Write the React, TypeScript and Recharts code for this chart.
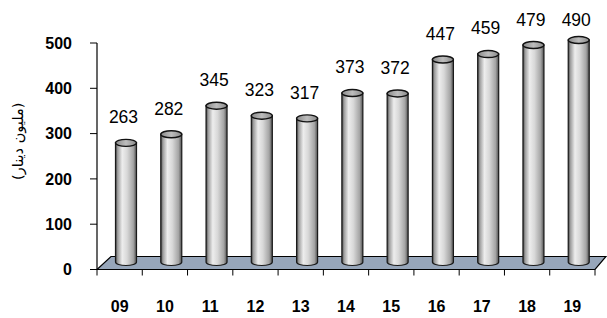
import { BarChart, Bar, XAxis, YAxis, LabelList, ReferenceArea } from 'recharts';

// values (million dinars)
const years = ['09', '10', '11', '12', '13', '14', '15', '16', '17', '18', '19'];
const amounts = [263, 282, 345, 323, 317, 373, 372, 447, 459, 479, 490];
const yTicks = [0, 100, 200, 300, 400, 500];
const unitLabel = '(مليون دينار)';

const data = years.map((year, i) => ({ year, value: amounts[i] }));

const W = 607;
const H = 318;
const MARGIN = { top: 43, right: 12, bottom: 8, left: 0 };
const Y_AXIS_W = 97;
const X_AXIS_H = 40.5;
const BAND = (W - MARGIN.left - MARGIN.right - Y_AXIS_W) / years.length;

// fake 3D depth
const DEPTH_X = 13;
const DEPTH_Y = 13;
const FONT = '"Liberation Sans", Arial, sans-serif';

const Cylinder = (props: any) => {
  const { x, y, width, height } = props;
  if (height == null || width == null) return null;
  const left = x + DEPTH_X / 2;
  const top = y - DEPTH_Y / 2 - 1;
  const ry = 3.5;
  const rx = width / 2;
  const bottom = top + height;
  return (
    <g>
      <path
        d={`M${left},${top} L${left},${bottom} A${rx},${ry} 0 0 0 ${left + width},${bottom} L${left + width},${top} Z`}
        fill="url(#cylBody)"
        stroke="#1a1a1a"
        strokeWidth={1.2}
      />
      <ellipse cx={left + rx} cy={top} rx={rx} ry={ry} fill="url(#cylCap)" stroke="#111" strokeWidth={1.4} />
    </g>
  );
};

const Floor = (props: any) => {
  const { x, y, width, height } = props;
  const fy = y + height;
  const pts = [
    [x, fy],
    [x + DEPTH_X + 1, fy - DEPTH_Y],
    [x + width + DEPTH_X - 2, fy - DEPTH_Y],
    [x + width, fy],
  ]
    .map((p) => p.join(','))
    .join(' ');
  return <polygon points={pts} fill="#97a6ba" stroke="#000" strokeWidth={1.2} />;
};

const ValueLabel = (props: any) => {
  const { x, y, width, value } = props;
  const top = y - DEPTH_Y / 2 - 1;
  const cy = Math.max(top - 26, 20);
  return (
    <text x={x + width / 2 + 4} y={cy} dy="0.36em" textAnchor="middle" fontSize={17.5} fontFamily={FONT} fill="#000">
      {value}
    </text>
  );
};

const YearTick = (props: any) => {
  const { x, y, payload, index } = props;
  const half = BAND / 2;
  return (
    <g>
      <line x1={x - half} x2={x - half} y1={y} y2={y + 6} stroke="#000" />
      {index === years.length - 1 && <line x1={x + half} x2={x + half} y1={y} y2={y + 6} stroke="#000" />}
      <text x={x} y={y + 42} textAnchor="middle" fontSize={16} fontWeight="bold" fontFamily={FONT} fill="#000">
        {payload.value}
      </text>
    </g>
  );
};

const UnitLabel = (props: any) => {
  const { viewBox } = props;
  const cx = 18;
  const cy = viewBox.y + viewBox.height / 2 - 15;
  return (
    <text
      x={cx}
      y={cy}
      transform={`rotate(-90 ${cx} ${cy})`}
      textAnchor="middle"
      dy="0.35em"
      fontSize={14.5}
      fontFamily='"DejaVu Sans", "Noto Sans", sans-serif'
      fill="#000"
      direction="rtl"
    >
      {unitLabel}
    </text>
  );
};

export default function App() {
  return (
    <div style={{ position: 'absolute', left: 0, top: 0, width: W, height: H, background: '#fff' }}>
      <BarChart width={W} height={H} data={data} margin={MARGIN}>
        <defs>
          <linearGradient id="cylBody" x1="0" y1="0" x2="1" y2="0">
            <stop offset="0%" stopColor="#3e3e3e" />
            <stop offset="10%" stopColor="#9c9c9c" />
            <stop offset="32%" stopColor="#ededed" />
            <stop offset="55%" stopColor="#d8d8d8" />
            <stop offset="85%" stopColor="#a4a4a4" />
            <stop offset="100%" stopColor="#505050" />
          </linearGradient>
          <linearGradient id="cylCap" x1="0" y1="0" x2="1" y2="0">
            <stop offset="0%" stopColor="#8a8a8a" />
            <stop offset="50%" stopColor="#bdbdbd" />
            <stop offset="100%" stopColor="#8a8a8a" />
          </linearGradient>
        </defs>
        <ReferenceArea
          x1={years[0]}
          x2={years[years.length - 1]}
          y1={0}
          y2={500}
          shape={Floor}
          ifOverflow="visible"
        />
        <XAxis
          dataKey="year"
          height={X_AXIS_H}
          axisLine={{ stroke: '#000', strokeWidth: 1.2 }}
          tickLine={false}
          tickSize={0}
          tickMargin={0}
          tick={<YearTick />}
          interval={0}
        />
        <YAxis
          width={Y_AXIS_W}
          domain={[0, 500]}
          ticks={yTicks}
          interval={0}
          axisLine={{ stroke: '#000', strokeWidth: 1.2 }}
          tickLine={{ stroke: '#000' }}
          tickSize={7}
          tickMargin={18}
          tick={{ fontSize: 16, fontWeight: 'bold', fontFamily: FONT, fill: '#000' }}
          label={<UnitLabel />}
        />
        <Bar dataKey="value" barSize={21} shape={Cylinder} isAnimationActive={false}>
          <LabelList dataKey="value" content={ValueLabel} />
        </Bar>
      </BarChart>
    </div>
  );
}
